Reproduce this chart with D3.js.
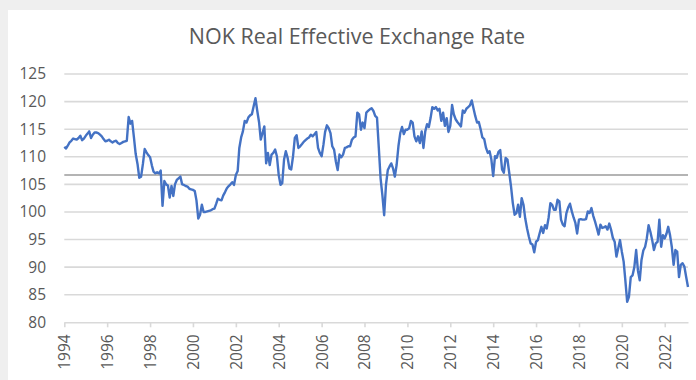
<!DOCTYPE html>
<html>
<head>
<meta charset="utf-8">
<script src="https://cdn.jsdelivr.net/npm/d3@7"></script>
<style>
  html, body { margin: 0; padding: 0; background: #efefef; }
  svg { display: block; }
</style>
</head>
<body>
<svg id="chart" width="696" height="380"></svg>
<script>
// Monthly NOK real effective exchange rate index, Jan 1994 – Feb 2023
const startYear = 1994;
const startMonth = 0;
const rate1994 = [111.8, 111.5, 112.0, 112.6, 112.9, 113.3, 113.2, 113.1, 113.4, 113.8, 113.0, 113.3];
const rate1995 = [113.8, 114.2, 114.6, 113.4, 114.0, 114.4, 114.4, 114.3, 114.0, 113.7, 113.2, 112.8];
const rate1996 = [112.9, 113.1, 112.8, 112.6, 112.8, 112.9, 112.5, 112.3, 112.5, 112.7, 112.8, 112.9];
const rate1997 = [117.2, 116.0, 116.5, 113.5, 110.5, 108.7, 106.2, 106.4, 108.7, 111.4, 110.8, 110.3];
const rate1998 = [109.9, 108.4, 107.3, 107.0, 107.2, 107.0, 107.5, 101.1, 105.6, 105.0, 104.8, 102.6];
const rate1999 = [104.7, 102.9, 105.0, 105.8, 106.1, 106.4, 105.0, 104.9, 104.7, 104.6, 104.2, 104.1];
const rate2000 = [104.0, 103.8, 102.1, 98.8, 99.5, 101.3, 100.0, 100.0, 100.1, 100.2, 100.3, 100.5];
const rate2001 = [100.6, 101.5, 102.4, 102.2, 102.1, 103.0, 103.6, 104.3, 104.7, 105.0, 105.4, 104.9];
const rate2002 = [106.7, 107.4, 111.6, 113.5, 114.6, 116.5, 116.2, 117.1, 117.5, 117.7, 119.2, 120.6];
const rate2003 = [118.3, 116.2, 113.1, 114.3, 115.5, 108.8, 110.7, 108.5, 110.4, 110.7, 111.3, 110.1];
const rate2004 = [106.7, 104.9, 105.2, 109.5, 111.0, 109.8, 107.9, 107.7, 110.1, 113.4, 113.9, 111.6];
const rate2005 = [111.9, 112.3, 112.7, 113.0, 113.3, 113.5, 114.0, 113.7, 114.1, 114.5, 111.6, 110.7];
const rate2006 = [110.1, 112.2, 114.5, 115.7, 115.2, 114.3, 111.9, 111.3, 109.1, 107.6, 110.4, 109.9];
const rate2007 = [110.4, 111.6, 111.7, 111.9, 111.9, 113.1, 113.5, 113.7, 118.0, 117.7, 114.9, 116.2];
const rate2008 = [115.2, 118.0, 118.3, 118.6, 118.8, 118.3, 117.4, 117.1, 111.6, 106.1, 103.0, 99.4];
const rate2009 = [104.9, 107.6, 108.2, 108.8, 107.9, 106.4, 108.5, 111.9, 114.3, 115.4, 114.1, 114.9];
const rate2010 = [114.9, 115.2, 116.5, 116.2, 113.7, 112.8, 113.7, 112.5, 114.6, 111.6, 114.6, 115.9];
const rate2011 = [115.4, 117.1, 119.0, 118.7, 119.0, 118.4, 118.7, 116.5, 118.0, 115.6, 117.0, 114.5];
const rate2012 = [115.6, 119.4, 117.7, 116.8, 116.3, 115.9, 115.5, 118.4, 118.0, 118.7, 119.0, 119.3];
const rate2013 = [120.2, 118.7, 117.4, 116.2, 116.3, 115.0, 113.5, 113.2, 111.6, 110.7, 111.0, 109.5];
const rate2014 = [106.5, 110.1, 109.8, 110.9, 111.2, 107.7, 107.1, 109.8, 109.5, 107.1, 104.6, 101.6];
const rate2015 = [99.5, 99.8, 101.3, 99.1, 102.5, 101.3, 98.8, 97.0, 95.5, 94.3, 94.1, 92.7];
const rate2016 = [94.6, 94.9, 96.1, 97.3, 96.2, 97.6, 97.0, 98.9, 101.6, 101.3, 100.4, 100.4];
const rate2017 = [102.2, 101.9, 98.6, 97.7, 97.4, 99.8, 100.8, 101.5, 100.1, 99.0, 98.0, 96.1];
const rate2018 = [98.6, 98.7, 98.6, 98.6, 98.7, 100.1, 99.8, 100.7, 99.3, 98.3, 97.1, 95.9];
const rate2019 = [97.7, 97.1, 97.2, 97.4, 96.8, 97.9, 96.8, 95.3, 94.6, 91.9, 93.4, 94.9];
const rate2020 = [92.8, 91.0, 87.6, 83.7, 84.6, 88.2, 88.5, 90.0, 93.1, 89.4, 87.6, 91.3];
const rate2021 = [93.0, 93.7, 95.2, 97.6, 96.4, 94.9, 93.1, 94.3, 94.6, 98.6, 93.7, 95.8];
const rate2022 = [95.2, 96.1, 97.3, 95.8, 93.7, 90.4, 93.1, 92.8, 88.2, 90.4, 90.7, 90.1];
const rate2023 = [88.2, 86.4];

const rateValues = [].concat(
  rate1994, rate1995, rate1996, rate1997, rate1998, rate1999, rate2000, rate2001,
  rate2002, rate2003, rate2004, rate2005, rate2006, rate2007, rate2008, rate2009,
  rate2010, rate2011, rate2012, rate2013, rate2014, rate2015, rate2016, rate2017,
  rate2018, rate2019, rate2020, rate2021, rate2022, rate2023
);

// Long-run average level (dark reference line)
const averageLevel = 106.7;

const yTicks = [80, 85, 90, 95, 100, 105, 110, 115, 120, 125];
const xTickYears = [1994, 1996, 1998, 2000, 2002, 2004, 2006, 2008, 2010, 2012, 2014, 2016, 2018, 2020, 2022];
const titleText = "NOK Real Effective Exchange Rate";

const series = rateValues.map((v, i) => ({ date: new Date(startYear, startMonth + i, 1), value: v }));

const svg = d3.select("#chart");
const W = 696, H = 380;
const plot = { left: 64.3, right: 688, top: 74, bottom: 322.3 };

// Card background
svg.append("rect").attr("x", 0).attr("y", 0).attr("width", W).attr("height", H).attr("fill", "#efefef");
svg.append("rect").attr("x", 8).attr("y", 10).attr("width", W - 8).attr("height", H - 10).attr("fill", "#ffffff");

const x = d3.scaleTime()
  .domain([new Date(1994, 0, 1), new Date(2023, 1, 1)])
  .range([plot.left, plot.right]);
const y = d3.scaleLinear().domain([80, 125]).range([plot.bottom, plot.top]);

// Horizontal gridlines
svg.append("g")
  .selectAll("line")
  .data(yTicks.filter(t => t > 80))
  .join("line")
  .attr("x1", plot.left).attr("x2", plot.right)
  .attr("y1", d => y(d)).attr("y2", d => y(d))
  .attr("stroke", "#d9d9d9").attr("stroke-width", 1.6);

// Average reference line
svg.append("line")
  .attr("x1", plot.left).attr("x2", plot.right)
  .attr("y1", y(averageLevel)).attr("y2", y(averageLevel))
  .attr("stroke", "#b4b4b4").attr("stroke-width", 2);

// Y axis labels
const yAxis = d3.axisLeft(y).tickValues(yTicks).tickSize(0).tickPadding(0);
const gy = svg.append("g").attr("transform", `translate(46,0)`).call(yAxis);
gy.select(".domain").remove();
gy.selectAll("text")
  .attr("fill", "#595959")
  .style("font-family", "'Open Sans', sans-serif")
  .style("font-size", "15.5px");

// X axis with rotated year labels
const xAxis = d3.axisBottom(x)
  .tickValues(xTickYears.map(yr => new Date(yr, 0, 1)))
  .tickFormat(d3.timeFormat("%Y"))
  .tickSize(5)
  .tickSizeOuter(0)
  .tickPadding(6);
const gx = svg.append("g").attr("transform", `translate(0,${plot.bottom})`).call(xAxis);
gx.select(".domain").attr("stroke", "#d9d9d9").attr("stroke-width", 1.6);
gx.selectAll(".tick line").attr("stroke", "#d9d9d9").attr("stroke-width", 1.6);
gx.selectAll("text")
  .attr("fill", "#595959")
  .style("font-family", "'Open Sans', sans-serif")
  .style("font-size", "15.5px")
  .attr("text-anchor", "end")
  .attr("dy", "0.35em")
  .attr("transform", "rotate(-90)")
  .attr("x", -12)
  .attr("y", 0);

// Rate line
const line = d3.line().x(d => x(d.date)).y(d => y(d.value));
svg.append("path")
  .datum(series)
  .attr("d", line)
  .attr("fill", "none")
  .attr("stroke", "#4472c4")
  .attr("stroke-width", 2.4)
  .attr("stroke-linejoin", "round");

// Title
svg.append("text")
  .attr("x", 357).attr("y", 44)
  .attr("text-anchor", "middle")
  .attr("fill", "#595959")
  .style("font-family", "'Open Sans', sans-serif")
  .style("font-size", "21.5px")
  .text(titleText);
</script>
</body>
</html>
